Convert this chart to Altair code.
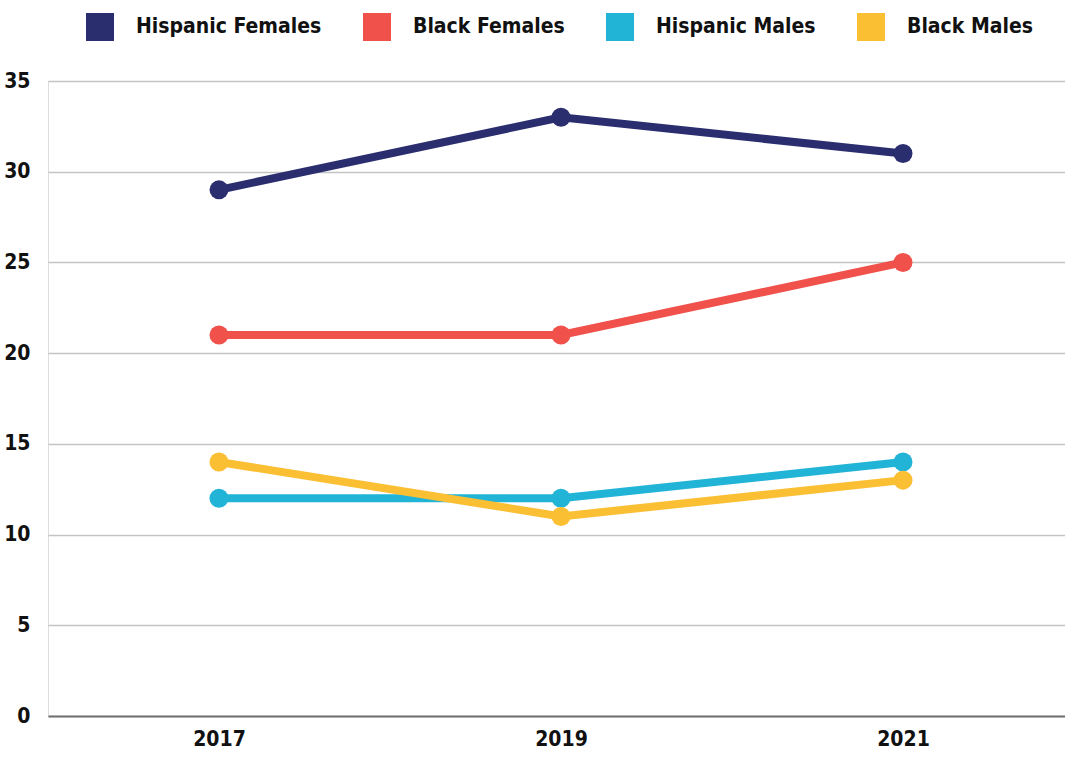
import altair as alt
import pandas as pd

years = ["2017", "2019", "2021"]
series_names = ["Hispanic Females", "Black Females", "Hispanic Males", "Black Males"]
hispanic_females = [29, 33, 31]
black_females = [21, 21, 25]
hispanic_males = [12, 12, 14]
black_males = [14, 11, 13]
colors = ["#2a2d6e", "#f0514a", "#22b4d6", "#fbbf33"]

values = [hispanic_females, black_females, hispanic_males, black_males]
rows = []
for i, (name, vals) in enumerate(zip(series_names, values)):
    for y, v in zip(years, vals):
        rows.append({"year": y, "value": v, "series": name, "order": i})
df = pd.DataFrame(rows)

FONT = "DejaVu Sans Condensed"

x = alt.X("year:N", title=None,
          scale=alt.Scale(type="point", padding=0.4868, align=0.5135),
          axis=alt.Axis(labelAngle=0, labelFont=FONT, labelFontWeight="bold",
                        labelFontSize=21, labelColor="#111", ticks=False,
                        labelPadding=12, domainColor="#707070", domainWidth=2,
                        grid=False))
y = alt.Y("value:Q", title=None,
          scale=alt.Scale(domain=[0, 35], nice=False),
          axis=alt.Axis(values=[0, 5, 10, 15, 20, 25, 30, 35], labelFont=FONT,
                        labelFontWeight="bold", labelFontSize=21, labelColor="#111",
                        ticks=False, domain=False, labelPadding=18,
                        gridColor="#c4c4c4", gridWidth=1.5))
color = alt.Color("series:N", title=None,
                  scale=alt.Scale(domain=series_names, range=colors),
                  legend=alt.Legend(orient="none", legendX=38, legendY=-68,
                                    direction="horizontal", symbolType="square",
                                    symbolSize=784, symbolStrokeWidth=0,
                                    symbolOpacity=1, gridAlign="each",
                                    labelFont=FONT, labelFontWeight="bold",
                                    labelFontSize=21, labelColor="#111",
                                    labelOffset=22, columnPadding=41,
                                    padding=0, labelLimit=300))

layers = []
for name in series_names:
    sub = alt.Chart(df[df.series == name]).encode(x=x, y=y, color=color)
    layers.append(sub.mark_line(strokeWidth=8))
    layers.append(sub.mark_circle(size=360, opacity=1))

chart = alt.layer(*layers).properties(
    width=1017, height=635,
    autosize=alt.AutoSizeParams(type="none"),
    padding={"left": 48, "top": 81, "right": 0, "bottom": 42},
).configure_view(stroke=None).configure(background="white")

chart.save("out.html", embed_options={"renderer": "svg", "actions": False})
